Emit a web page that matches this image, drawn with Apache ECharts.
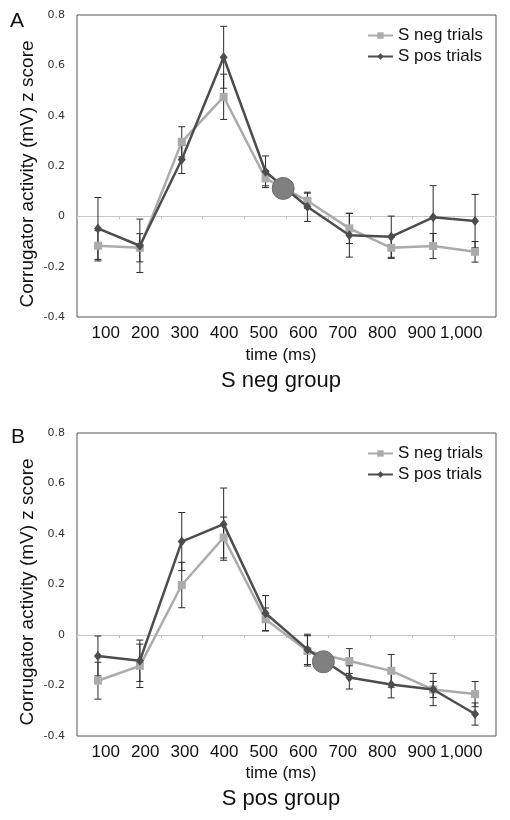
<!DOCTYPE html>
<html>
<head>
<meta charset="utf-8">
<script src="https://cdn.jsdelivr.net/npm/echarts@6/dist/echarts.min.js"></script>
<style>
html,body{margin:0;padding:0;background:#fff;}
#chart{width:510px;height:820px;}
</style>
</head>
<body>
<div id="chart"></div>
<script>
// ---- data ----
const times = [100, 200, 300, 400, 500, 600, 700, 800, 900, 1000];
const timeLabels = ['100', '200', '300', '400', '500', '600', '700', '800', '900', '1,000'];
const seriesNames = ['S neg trials', 'S pos trials'];

// Panel A: S neg group
const aNeg = [-0.117, -0.125, 0.296, 0.475, 0.151, 0.062, -0.048, -0.125, -0.118, -0.141];
const aNegErr = [0.06, 0.056, 0.06, 0.09, 0.03, 0.03, 0.06, 0.042, 0.05, 0.041];
const aPos = [-0.048, -0.117, 0.226, 0.632, 0.177, 0.038, -0.075, -0.081, -0.004, -0.019];
const aPosErr = [0.123, 0.106, 0.056, 0.123, 0.063, 0.058, 0.087, 0.082, 0.126, 0.106];
const aMarker = [542, 0.111];

// Panel B: S pos group
const bNeg = [-0.181, -0.122, 0.198, 0.386, 0.062, -0.063, -0.103, -0.142, -0.216, -0.234];
const bNegErr = [0.073, 0.086, 0.09, 0.081, 0.045, 0.06, 0.049, 0.065, 0.032, 0.05];
const bPos = [-0.083, -0.102, 0.370, 0.439, 0.086, -0.057, -0.168, -0.196, -0.216, -0.313];
const bPosErr = [0.079, 0.082, 0.115, 0.143, 0.07, 0.06, 0.046, 0.053, 0.064, 0.044];
const bMarker = [638, -0.106];

// ---- styles ----
const NEG_COLOR = '#ababab';
const POS_COLOR = '#4d4d4d';
const TXT = '#111';
const SANS = '"Liberation Sans", Arial, sans-serif';

const chart = echarts.init(document.getElementById('chart'), null, {renderer: 'canvas'});

function renderErr(params, api) {
  const x = api.value(0), lo = api.value(1), hi = api.value(2);
  const p1 = api.coord([x, lo]), p2 = api.coord([x, hi]);
  const w = 3.5;
  const st = {stroke: '#2a2a2a', lineWidth: 1};
  return {type: 'group', children: [
    {type: 'line', shape: {x1: p1[0], y1: p1[1], x2: p2[0], y2: p2[1]}, style: st},
    {type: 'line', shape: {x1: p1[0] - w, y1: p1[1], x2: p1[0] + w, y2: p1[1]}, style: st},
    {type: 'line', shape: {x1: p2[0] - w, y1: p2[1], x2: p2[0] + w, y2: p2[1]}, style: st}
  ]};
}

const pts = (v) => times.map((t, i) => [t, v[i]]);
const errs = (v, e) => times.map((t, i) => [t, v[i] - e[i], v[i] + e[i]]);

const grids = [
  {left: 77, top: 15, width: 419, height: 302, show: true, borderColor: '#555', borderWidth: 1, backgroundColor: 'transparent'},
  {left: 77, top: 433, width: 419, height: 303, show: true, borderColor: '#555', borderWidth: 1, backgroundColor: 'transparent'},
  {left: 86, top: 15, width: 395, height: 302},
  {left: 86, top: 433, width: 395, height: 303}
];

function dataX(gi) {
  return {
    type: 'value', gridIndex: gi, min: 50, max: 1050, interval: 100,
    axisLine: {show: true, onZero: true, lineStyle: {color: '#c8c8c8', width: 1}},
    axisTick: {show: true, length: 3, lineStyle: {color: '#c0c0c0'}},
    axisLabel: {show: false}, splitLine: {show: false}
  };
}
function labelX(gi) {
  return {
    type: 'category', gridIndex: gi, data: timeLabels, boundaryGap: true,
    axisLine: {show: false}, axisTick: {show: false}, splitLine: {show: false},
    axisLabel: {show: true, interval: 0, hideOverlap: false, margin: 8, fontFamily: SANS, fontSize: 17, color: TXT}
  };
}
function dataY(gi) {
  return {
    type: 'value', gridIndex: gi, min: -0.4, max: 0.8, interval: 0.2,
    axisLine: {show: false}, axisTick: {show: false}, splitLine: {show: false},
    axisLabel: {show: true, margin: 12, fontFamily: '"DejaVu Sans", Verdana, sans-serif', fontSize: 11, color: '#333'}
  };
}
function hiddenY(gi) {
  return {type: 'value', gridIndex: gi, show: false, min: 0, max: 1};
}

function panelSeries(ax, neg, negErr, pos, posErr, marker) {
  return [
    {type: 'custom', name: 'errNeg', xAxisIndex: ax, yAxisIndex: ax, renderItem: renderErr,
     data: errs(neg, negErr), encode: {x: 0, y: [1, 2]}, z: 2, silent: true},
    {type: 'custom', name: 'errPos', xAxisIndex: ax, yAxisIndex: ax, renderItem: renderErr,
     data: errs(pos, posErr), encode: {x: 0, y: [1, 2]}, z: 2, silent: true},
    {type: 'line', name: seriesNames[0], xAxisIndex: ax, yAxisIndex: ax, data: pts(neg),
     symbol: 'rect', symbolSize: 8, showAllSymbol: true,
     lineStyle: {color: NEG_COLOR, width: 2.5}, itemStyle: {color: NEG_COLOR}, z: 3, animation: false},
    {type: 'line', name: seriesNames[1], xAxisIndex: ax, yAxisIndex: ax, data: pts(pos),
     symbol: 'diamond', symbolSize: [8, 10], showAllSymbol: true,
     lineStyle: {color: POS_COLOR, width: 2.5}, itemStyle: {color: POS_COLOR}, z: 4, animation: false},
    {type: 'scatter', name: 'marker', xAxisIndex: ax, yAxisIndex: ax, data: [marker],
     symbol: 'circle', symbolSize: 22,
     itemStyle: {color: '#808080', borderColor: '#6e6e6e', borderWidth: 1, opacity: 1}, z: 5, animation: false}
  ];
}

function legend(top) {
  return {
    data: seriesNames, orient: 'vertical', right: 22, top: top,
    itemWidth: 25, itemHeight: 8, itemGap: 4,
    textStyle: {fontFamily: SANS, fontSize: 17, color: TXT},
    selectedMode: false
  };
}

function txt(text, x, y, size, rot) {
  return {type: 'text', x: x, y: y, rotation: rot || 0,
    style: {text: text, fill: TXT, font: size + 'px ' + SANS, align: 'center', verticalAlign: 'middle'}};
}

const option = {
  animation: false,
  backgroundColor: '#fff',
  grid: grids,
  xAxis: [dataX(0), dataX(1), labelX(2), labelX(3)],
  yAxis: [dataY(0), dataY(1), hiddenY(2), hiddenY(3)],
  legend: [legend(22), legend(440)],
  series: [].concat(
    panelSeries(0, aNeg, aNegErr, aPos, aPosErr, aMarker),
    panelSeries(1, bNeg, bNegErr, bPos, bPosErr, bMarker)
  ),
  graphic: [
    txt('A', 17, 21, 21),
    txt('B', 18, 437, 21),
    txt('Corrugator activity (mV) z score', 28, 174, 19, Math.PI / 2),
    txt('Corrugator activity (mV) z score', 28, 592, 19, Math.PI / 2),
    txt('time (ms)', 281, 355, 17),
    txt('S neg group', 281, 381, 22),
    txt('time (ms)', 281, 773, 17),
    txt('S pos group', 281, 799, 22)
  ]
};
chart.setOption(option);
</script>
</body>
</html>
